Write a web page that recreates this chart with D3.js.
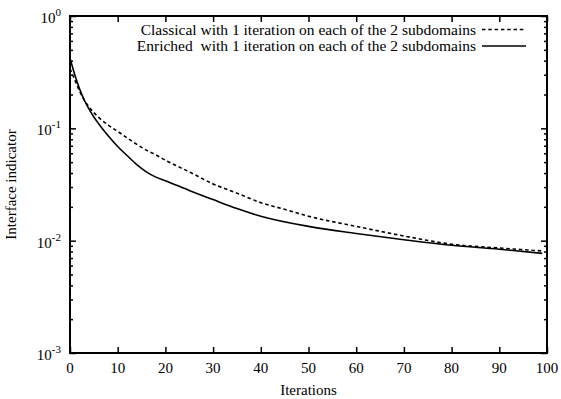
<!DOCTYPE html>
<html>
<head>
<meta charset="utf-8">
<script src="https://cdn.jsdelivr.net/npm/d3@7"></script>
<style>
  body { margin: 0; background: #fff; }
  text { font-family: "Times New Roman", "Liberation Serif", Times, serif; fill: #000; }
</style>
</head>
<body>
<svg id="chart" width="561" height="399"></svg>
<script>
var classicalIter = [0, 1, 2, 3, 4, 5, 6, 8, 10, 12, 14, 16, 18, 20, 25, 30, 35, 40, 45, 50, 60, 70, 80, 90, 99];
var classicalVal  = [0.34, 0.27, 0.215, 0.178, 0.155, 0.138, 0.125, 0.107, 0.094, 0.082, 0.072, 0.064, 0.058, 0.052, 0.041, 0.032, 0.0265, 0.0218, 0.019, 0.0165, 0.0134, 0.011, 0.0093, 0.0086, 0.0081];

var enrichedIter = [0, 1, 2, 3, 4, 5, 6, 8, 10, 12, 14, 16, 18, 20, 25, 30, 35, 40, 50, 60, 70, 80, 90, 99];
var enrichedVal  = [0.42, 0.3, 0.225, 0.178, 0.148, 0.126, 0.11, 0.086, 0.069, 0.057, 0.0475, 0.041, 0.0368, 0.0342, 0.028, 0.0232, 0.0193, 0.0165, 0.0134, 0.0116, 0.0102, 0.0091, 0.0084, 0.0077];

var xTicks = [0, 10, 20, 30, 40, 50, 60, 70, 80, 90, 100];
var yDecades = [-3, -2, -1, 0];

var legendLabels = ["Classical with 1 iteration on each of the 2 subdomains",
                    "Enriched  with 1 iteration on each of the 2 subdomains"];

var svg = d3.select("#chart");
var plotLeft = 70, plotRight = 547, plotTop = 16, plotBottom = 353;

var x = d3.scaleLinear().domain([0, 100]).range([plotLeft, plotRight]);
var y = d3.scaleLog().domain([1e-3, 1]).range([plotBottom, plotTop]);

// minor + major y ticks
var yMinor = [];
yDecades.slice(0, 3).forEach(function(e) {
  for (var k = 2; k <= 9; k++) yMinor.push(k * Math.pow(10, e));
});
var yMajor = yDecades.map(function(e) { return Math.pow(10, e); });

function styleAxis(g) {
  g.select(".domain").remove();
  g.selectAll("line").attr("stroke", "#000").attr("stroke-width", 1.5);
  g.selectAll("text").remove();
}

// x ticks bottom and top (inward)
svg.append("g").attr("transform", "translate(0," + plotBottom + ")")
  .call(d3.axisBottom(x).tickValues(xTicks).tickSize(-6)).call(styleAxis);
svg.append("g").attr("transform", "translate(0," + plotTop + ")")
  .call(d3.axisTop(x).tickValues(xTicks).tickSize(-6)).call(styleAxis);

// y ticks left and right
svg.append("g").attr("transform", "translate(" + plotLeft + ",0)")
  .call(d3.axisLeft(y).tickValues(yMajor).tickSize(-6)).call(styleAxis);
svg.append("g").attr("transform", "translate(" + plotLeft + ",0)")
  .call(d3.axisLeft(y).tickValues(yMinor).tickSize(-3)).call(styleAxis);
svg.append("g").attr("transform", "translate(" + plotRight + ",0)")
  .call(d3.axisRight(y).tickValues(yMajor).tickSize(-6)).call(styleAxis);
svg.append("g").attr("transform", "translate(" + plotRight + ",0)")
  .call(d3.axisRight(y).tickValues(yMinor).tickSize(-3)).call(styleAxis);

// frame
svg.append("rect")
  .attr("x", plotLeft).attr("y", plotTop)
  .attr("width", plotRight - plotLeft).attr("height", plotBottom - plotTop)
  .attr("fill", "none").attr("stroke", "#000").attr("stroke-width", 2);

// x tick labels
svg.selectAll(".xlab").data(xTicks).enter().append("text")
  .attr("x", function(d) { return x(d); })
  .attr("y", plotBottom + 20)
  .attr("text-anchor", "middle")
  .style("font-size", "15px")
  .text(function(d) { return d; });

// y tick labels 10^n
yDecades.forEach(function(e) {
  var t = svg.append("text")
    .attr("x", 61).attr("y", y(Math.pow(10, e)) + 7)
    .attr("text-anchor", "end")
    .style("font-size", "15px");
  t.append("tspan").text("10");
  t.append("tspan").attr("dy", -7).style("font-size", "11px").text(e);
});

// axis titles
svg.append("text")
  .attr("x", (plotLeft + plotRight) / 2).attr("y", 395)
  .attr("text-anchor", "middle")
  .style("font-size", "15px")
  .text("Iterations");

svg.append("text")
  .attr("transform", "translate(16," + ((plotTop + plotBottom) / 2) + ") rotate(-90)")
  .attr("text-anchor", "middle")
  .style("font-size", "15px")
  .text("Interface indicator");

// curves
var line = d3.line()
  .x(function(d) { return x(d[0]); })
  .y(function(d) { return y(d[1]); })
  .curve(d3.curveMonotoneX);

var classical = d3.zip(classicalIter, classicalVal);
var enriched = d3.zip(enrichedIter, enrichedVal);

svg.append("path").datum(classical)
  .attr("d", line)
  .attr("fill", "none").attr("stroke", "#000")
  .attr("stroke-width", 1.6).attr("stroke-dasharray", "3.5,2.8");

svg.append("path").datum(enriched)
  .attr("d", line)
  .attr("fill", "none").attr("stroke", "#000")
  .attr("stroke-width", 1.6);

// legend
var legendY = [29.5, 46];
legendLabels.forEach(function(lbl, i) {
  svg.append("text")
    .attr("x", 476).attr("y", legendY[i] + 5)
    .attr("text-anchor", "end")
    .attr("xml:space", "preserve")
    .style("white-space", "pre")
    .style("font-size", "15.5px")
    .text(lbl);
  svg.append("line")
    .attr("x1", 482).attr("x2", 526)
    .attr("y1", legendY[i]).attr("y2", legendY[i])
    .attr("stroke", "#000").attr("stroke-width", 1.6)
    .attr("stroke-dasharray", i === 0 ? "3.5,2.8" : null);
});
</script>
</body>
</html>
